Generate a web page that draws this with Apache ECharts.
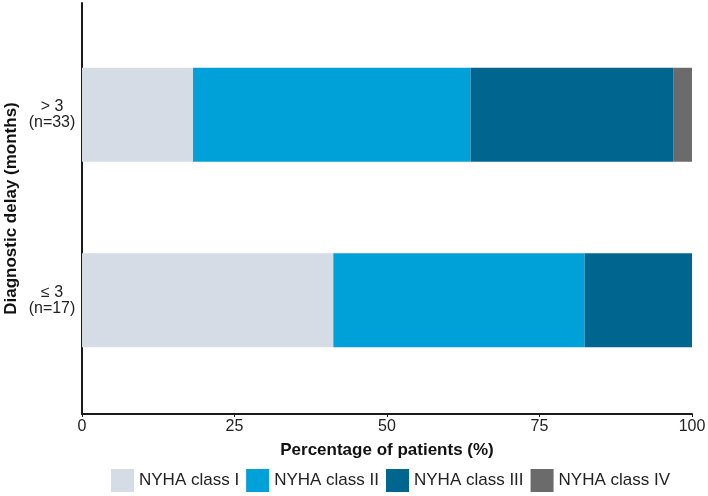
<!DOCTYPE html>
<html><head><meta charset="utf-8">
<script src="https://cdn.jsdelivr.net/npm/echarts@6/dist/echarts.min.js"></script>
<style>html,body{margin:0;padding:0;background:#fff}#c{width:708px;height:496px}</style>
</head><body><div id="c"></div>
<script>
var categories = ['≤ 3\n(n=17)', '> 3\n(n=33)'];
var seriesNames = ['NYHA class I', 'NYHA class II', 'NYHA class III', 'NYHA class IV'];
var classI = [41.2, 18.2];
var classII = [41.2, 45.5];
var classIII = [17.6, 33.3];
var classIV = [0, 3.0];
var xTicks = [0, 25, 50, 75, 100];

var colors = ['#d5dce6', '#00a0d8', '#006690', '#6b6b6b'];
var FONT = '"Liberation Sans", Arial, sans-serif';
var values = [classI, classII, classIII, classIV];
var chart = echarts.init(document.getElementById('c'));
chart.setOption({
  animation: false,
  textStyle: {fontFamily: FONT},
  color: colors,
  grid: [
    {left: 82, right: 16, top: 22, height: 371, outerBoundsMode: 'none', containLabel: false},
    {left: 82, right: 16, top: 3, bottom: 82, outerBoundsMode: 'none', containLabel: false}
  ],
  legend: {
    data: seriesNames, top: 464, left: 106, icon: 'rect',
    itemWidth: 23, itemHeight: 23, itemGap: 7,
    textStyle: {fontSize: 17, color: '#222', fontFamily: FONT}
  },
  xAxis: [
    {type: 'value', gridIndex: 0, min: xTicks[0], max: xTicks[xTicks.length-1], interval: 25, offset: 21,
     axisLine: {show: true, lineStyle: {color: '#1a1a1a', width: 2}},
     axisTick: {show: true, length: 3, lineStyle: {color: '#1a1a1a'}},
     splitLine: {show: false},
     axisLabel: {fontSize: 16, color: '#222', margin: 5, fontFamily: FONT},
     name: 'Percentage of patients (%)', nameLocation: 'middle', nameGap: 28,
     nameTextStyle: {fontSize: 17, fontWeight: 'bold', color: '#111', fontFamily: FONT}},
    {type: 'value', gridIndex: 1, show: false, min: 0, max: 1}
  ],
  yAxis: [
    {type: 'category', gridIndex: 0, data: categories,
     axisLine: {show: false}, axisTick: {show: false},
     axisLabel: {fontSize: 16, color: '#222', align: 'center', margin: 30, lineHeight: 16, fontFamily: FONT}},
    {type: 'value', gridIndex: 1, min: 0, max: 1,
     axisLine: {show: true, onZero: false, lineStyle: {color: '#1a1a1a', width: 2}},
     axisTick: {show: false}, axisLabel: {show: false}, splitLine: {show: false},
     name: 'Diagnostic delay (months)', nameLocation: 'middle', nameGap: 62, nameRotate: 90,
     nameTextStyle: {fontSize: 17, fontWeight: 'bold', color: '#111', fontFamily: FONT}}
  ],
  series: seriesNames.map(function(n, i){
    return {name: n, type: 'bar', stack: 'total', xAxisIndex: 0, yAxisIndex: 0,
      barWidth: '50.6%', data: values[i], itemStyle: {color: colors[i]}};
  })
});
</script></body></html>
